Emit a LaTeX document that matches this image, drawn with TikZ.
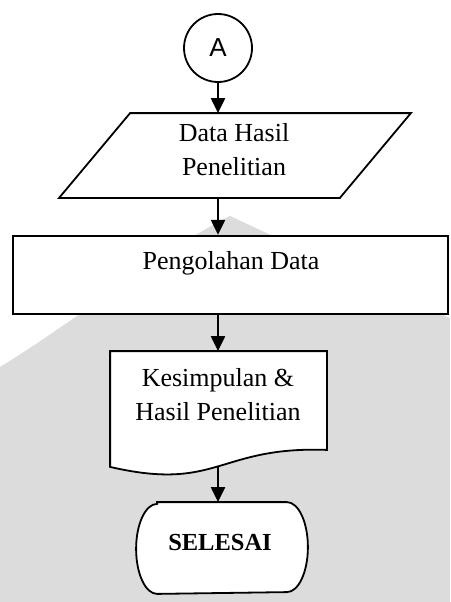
\documentclass[tikz,border=0pt]{standalone}
\usepackage{fontspec}
\setmainfont{Liberation Serif}
\newfontfamily\arialfont{Liberation Sans}
\usetikzlibrary{arrows.meta,shapes.geometric}
\definecolor{wmgray}{RGB}{220,220,220}
\begin{document}
\begin{tikzpicture}[x=1pt,y=-1pt,
  line width=1.8pt,
  flow/.style={-{Triangle[length=15pt,width=14pt]}, line width=2.2pt},
  txt/.style={font=\fontsize{26}{34}\selectfont, align=center, inner sep=0pt},
  anchorbox/.style={draw=none, inner sep=0pt, rectangle},
  shapeline/.style={draw=black, fill=white, line width=1.8pt}
]
\useasboundingbox (0,0) rectangle (450,602);
% watermark background area
\fill[wmgray] (0,367) .. controls (80,318) and (170,245) .. (230,216)
   .. controls (300,248) and (380,290) .. (450,318) -- (450,602) -- (0,602) -- cycle;

% connector circle
\node[circle, shapeline, minimum size=68pt, inner sep=0pt,
      font=\arialfont\fontsize{26}{30}\selectfont] (A) at (218,48) {A};

% parallelogram (data)
\node[anchorbox, minimum width=279pt, minimum height=83pt] (P) at (235,155.5) {};
\draw[shapeline] ([xshift=35.5pt]P.north west) -- ([xshift=35.5pt]P.north east)
  -- ([xshift=-35.5pt]P.south east) -- ([xshift=-35.5pt]P.south west) -- cycle;
\node[txt] (PT) at (234,150) {Data Hasil\\Penelitian};

% process rectangle
\node[draw, fill=white, line width=2.3pt, minimum width=435pt, minimum height=78pt,
      inner sep=0pt] (R) at (230.5,275) {};
\node[txt] (RT) at (231,263) {Pengolahan Data};

% document
\node[anchorbox, minimum width=215pt, minimum height=97pt] (D) at (218.5,400.5) {};
\draw[shapeline] (D.north west) -- (D.north east) -- (D.south east)
  .. controls (218,446) and (218,492) .. ([yshift=-17pt]D.south west) -- cycle;
\coordinate (W) at (218,466);
\node[txt] (DT) at (218,395) {Kesimpulan \&\\Hasil Penelitian};

% terminator
\node[anchorbox, minimum width=170pt, minimum height=90pt] (T) at (222,548) {};
\draw[shapeline] ([xshift=21pt]T.north west) -- ([xshift=-21pt]T.north east)
  arc[start angle=90, end angle=-90, x radius=21pt, y radius=45pt]
  -- ([xshift=21pt]T.south west)
  arc[start angle=270, end angle=90, x radius=21pt, y radius=45pt] -- cycle;
\node[font=\bfseries\fontsize{24.5}{30}\selectfont, inner sep=0pt] (TT) at (220,543) {SELESAI};

% connectors
\draw[flow] (A.south) -- (A.south |- P.north);
\draw[flow] (A.south |- P.south) -- (A.south |- R.north);
\draw[flow] (A.south |- R.south) -- (A.south |- D.north);
\draw[flow] (W) -- (W |- T.north);
\end{tikzpicture}
\end{document}
